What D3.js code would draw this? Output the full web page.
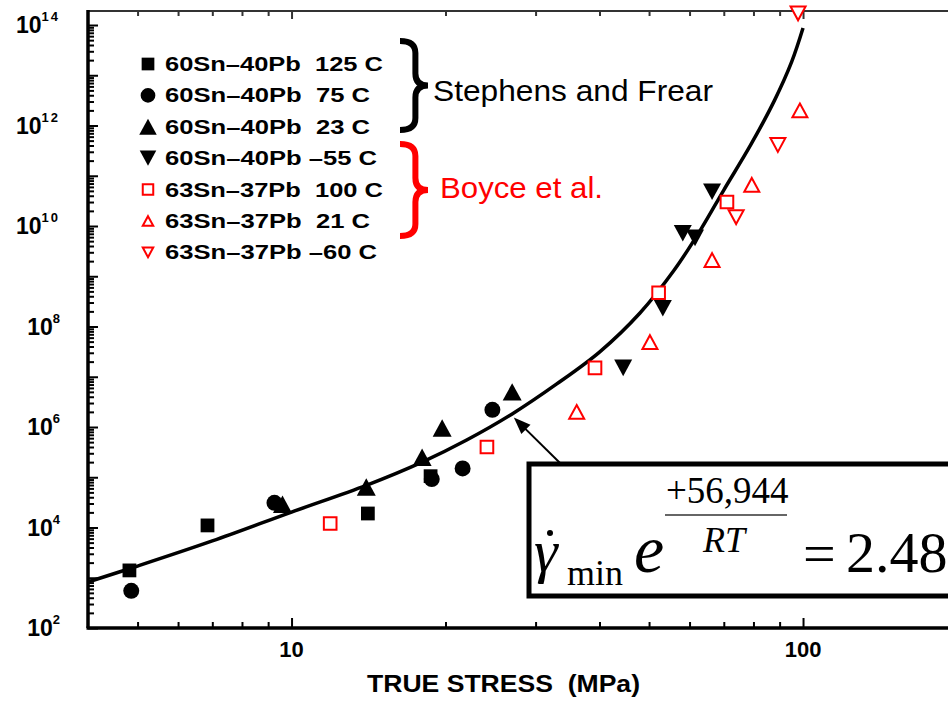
<!DOCTYPE html>
<html>
<head>
<meta charset="utf-8">
<script src="https://cdn.jsdelivr.net/npm/d3@7"></script>
<style>
  body { margin: 0; background: #fff; }
  svg { display: block; font-family: "Liberation Sans", Arial, sans-serif; }
</style>
</head>
<body>
<svg id="chart" width="948" height="703"></svg>
<script>
// [true stress (MPa), minimum strain rate * exp(Q/RT)]
const sn60Pb125 = [[4.82, 1.4e3], [6.85, 1.1e4], [14.1, 1.9e4], [18.7, 1.05e5]];
const sn60Pb75 = [[4.86, 5.5e2], [9.26, 3.1e4], [18.8, 9.2e4], [21.6, 1.5e5], [24.7, 2.2e6]];
const sn60Pb23 = [[9.6, 2.9e4], [14.0, 6.4e4], [18.0, 2.5e5], [19.7, 9.6e5], [27.0, 5.0e6]];
const sn60PbM55 = [[44.5, 1.5e7], [53.2, 2.3e8], [58.2, 7.2e9], [61.5, 5.8e9], [66.4, 4.8e10]];
const sn63Pb100 = [[11.9, 1.2e4], [24.1, 4.0e5], [39.2, 1.5e7], [52.2, 4.7e8], [71.0, 3.0e10]];
const sn63Pb21 = [[36.1, 2.0e6], [50.2, 4.9e7], [66.4, 2.1e9], [79.4, 6.6e10], [98.6, 2.0e12]];
const sn63PbM60 = [[74.0, 1.5e10], [89.3, 4.1e11], [97.8, 1.7e14]];

const legendLabels = [
  "60Sn\u201340Pb  125 C", "60Sn\u201340Pb  75 C", "60Sn\u201340Pb  23 C", "60Sn\u201340Pb \u201355 C",
  "63Sn\u201337Pb  100 C", "63Sn\u201337Pb  21 C", "63Sn\u201337Pb \u201360 C"
];

// fitted curve
const fitCurve = [
  [4, 823], [5, 1.71e3], [7, 5.4e3], [10, 2.03e4], [14, 6.9e4], [18, 2.0e5], [22, 5.5e5],
  [27, 1.82e6], [33, 7.2e6], [40, 3.1e7], [48, 1.86e8], [56, 1.33e9], [63, 8.3e9],
  [70, 5.2e10], [79, 4.1e11], [88, 3.2e12], [95, 1.84e13], [100, 8.7e13]
];

const xMajorTicks = [10, 100, 200];
const xMinorTicks = [5, 6, 7, 8, 9, 20, 30, 40, 50, 60, 70, 80, 90];
const xTickLabels = [10, 100];
const yDecades = [2, 3, 4, 5, 6, 7, 8, 9, 10, 11, 12, 13, 14];
const yLabelPowers = [2, 4, 6, 8, 10, 12, 14];

const svg = d3.select("#chart");
const x = d3.scaleLog().domain([4, 200]).range([88, 957]);
const y = d3.scaleLog().domain([1e2, 1.9e14]).range([628, 11]);

const triUp = {
  draw(ctx, size) {
    const w = Math.sqrt(size), h = w * 0.92;
    ctx.moveTo(0, -h / 2); ctx.lineTo(w / 2, h / 2); ctx.lineTo(-w / 2, h / 2); ctx.closePath();
  }
};
const triDown = {
  draw(ctx, size) {
    const w = Math.sqrt(size), h = w * 0.92;
    ctx.moveTo(0, h / 2); ctx.lineTo(w / 2, -h / 2); ctx.lineTo(-w / 2, -h / 2); ctx.closePath();
  }
};

const series = [
  { data: sn60Pb125, type: d3.symbolSquare, size: 190, fill: "#000", stroke: "none" },
  { data: sn60Pb75, type: d3.symbolCircle, size: 200, fill: "#000", stroke: "none" },
  { data: sn60Pb23, type: triUp, size: 361, fill: "#000", stroke: "none" },
  { data: sn60PbM55, type: triDown, size: 324, fill: "#000", stroke: "none" },
  { data: sn63Pb100, type: d3.symbolSquare, size: 160, fill: "#fff", stroke: "#f00" },
  { data: sn63Pb21, type: triUp, size: 225, fill: "#fff", stroke: "#f00" },
  { data: sn63PbM60, type: triDown, size: 225, fill: "#fff", stroke: "#f00" }
];

// ticks
function ticks(axis, scale, values, size, transform, color) {
  svg.append("g")
    .attr("transform", transform)
    .call(axis(scale).tickValues(values).tickSize(size).tickSizeOuter(0).tickFormat(""))
    .call(g => g.select(".domain").remove())
    .selectAll("line").attr("stroke", color).attr("stroke-width", 2);
}
const yMinor = yDecades.slice(0, -1).flatMap(p => [2, 3, 4, 5, 6, 7, 8, 9].map(k => k * Math.pow(10, p)))
  .filter(v => v < 1.9e14);
const yMajor = yDecades.map(p => Math.pow(10, p));

ticks(d3.axisTop, x, xMajorTicks, 10, `translate(0,${y.range()[0]})`, "#000");
ticks(d3.axisTop, x, xMinorTicks, 6, `translate(0,${y.range()[0]})`, "#000");
ticks(d3.axisBottom, x, xMajorTicks, 8, `translate(0,${y.range()[1]})`, "#333");
ticks(d3.axisBottom, x, xMinorTicks, 5, `translate(0,${y.range()[1]})`, "#333");
ticks(d3.axisRight, y, yMajor, 10, `translate(${x.range()[0]},0)`, "#000");
ticks(d3.axisRight, y, yMinor, 6, `translate(${x.range()[0]},0)`, "#000");

// frame
const [x0, x1] = x.range(), [yb, yt] = y.range();
svg.append("line").attr("x1", x0).attr("x2", x1).attr("y1", yt).attr("y2", yt)
  .attr("stroke", "#333").attr("stroke-width", 2);
svg.append("line").attr("x1", x1).attr("x2", x1).attr("y1", yt).attr("y2", yb)
  .attr("stroke", "#000").attr("stroke-width", 3.5);
svg.append("line").attr("x1", x0 - 1.5).attr("x2", x1).attr("y1", yb).attr("y2", yb)
  .attr("stroke", "#000").attr("stroke-width", 3.5);
svg.append("line").attr("x1", x0).attr("x2", x0).attr("y1", yt - 1).attr("y2", yb)
  .attr("stroke", "#000").attr("stroke-width", 3.5);

// tick labels
svg.selectAll(".xlab")
  .data(xTickLabels)
  .join("text")
  .attr("x", d => x(d))
  .attr("y", 657)
  .attr("text-anchor", "middle")
  .attr("font-size", 22)
  .attr("font-weight", "bold")
  .text(d => d);

const ylab = svg.selectAll(".ylab")
  .data(yLabelPowers)
  .join("text")
  .attr("x", 60)
  .attr("y", d => y(Math.pow(10, d)) + 8)
  .attr("text-anchor", "end")
  .attr("font-weight", "bold");
ylab.append("tspan").attr("font-size", 23).text("10");
ylab.append("tspan").attr("font-size", 13).attr("dy", -12)
  .attr("letter-spacing", d => d > 9 ? 2 : 0).text(d => d);

svg.append("text")
  .attr("x", 367)
  .attr("y", 692)
  .attr("font-size", 24)
  .attr("font-weight", "bold")
  .attr("textLength", 273)
  .attr("lengthAdjust", "spacingAndGlyphs")
  .style("white-space", "pre")
  .text("TRUE STRESS  (MPa)");

// fitted curve
const line = d3.line().x(d => x(d[0])).y(d => y(d[1])).curve(d3.curveCatmullRom.alpha(0.5));
svg.append("path")
  .datum(fitCurve)
  .attr("d", line)
  .attr("fill", "none")
  .attr("stroke", "#000")
  .attr("stroke-width", 3.5);

// data markers
series.forEach(s => {
  svg.append("g")
    .selectAll("path")
    .data(s.data)
    .join("path")
    .attr("transform", d => `translate(${x(d[0])},${y(d[1])})`)
    .attr("d", d3.symbol().type(s.type).size(s.size))
    .attr("fill", s.fill)
    .attr("stroke", s.stroke)
    .attr("stroke-width", 2);
});

// legend
const legend = svg.append("g").attr("transform", "translate(148,64)");
const legendWidths = [218, 205, 205, 212, 218, 205, 212];
const rows = legend.selectAll("g")
  .data(series)
  .join("g")
  .attr("transform", (d, i) => `translate(0,${i * 31.4})`);
rows.append("path")
  .attr("d", d => d3.symbol().type(d.type).size(d.fill === "#fff" ? 110 : d.size * 0.85)())
  .attr("fill", d => d.fill)
  .attr("stroke", d => d.stroke)
  .attr("stroke-width", 2);
rows.append("text")
  .attr("x", 17)
  .attr("y", 7)
  .attr("font-size", 20)
  .attr("font-weight", "bold")
  .attr("textLength", (d, i) => legendWidths[i])
  .attr("lengthAdjust", "spacingAndGlyphs")
  .style("white-space", "pre")
  .text((d, i) => legendLabels[i]);

// braces with source labels
function brace(bx, by0, by1, depth) {
  const xm = bx + depth * 0.55, xt = bx + depth, ym = (by0 + by1) / 2, r = 12;
  return `M${bx},${by0} Q${xm},${by0} ${xm},${by0 + r} L${xm},${ym - r} Q${xm},${ym} ${xt},${ym} ` +
    `Q${xm},${ym} ${xm},${ym + r} L${xm},${by1 - r} Q${xm},${by1} ${bx},${by1}`;
}
svg.append("path").attr("d", brace(400, 41, 130, 28))
  .attr("fill", "none").attr("stroke", "#000").attr("stroke-width", 6);
svg.append("path").attr("d", brace(400, 144, 236, 28))
  .attr("fill", "none").attr("stroke", "#f00").attr("stroke-width", 6);
svg.append("text").attr("x", 433).attr("y", 101).attr("font-size", 30)
  .attr("textLength", 280).attr("lengthAdjust", "spacingAndGlyphs")
  .text("Stephens and Frear");
svg.append("text").attr("x", 440).attr("y", 198).attr("font-size", 30).attr("fill", "#f00")
  .attr("textLength", 163).attr("lengthAdjust", "spacingAndGlyphs")
  .text("Boyce et al.");

// arrow to the curve
const tip = [x(27.2), y(1.55e6)];
const tail = [560, 463];
const ang = Math.atan2(tip[1] - tail[1], tip[0] - tail[0]);
svg.append("line")
  .attr("x1", tail[0]).attr("y1", tail[1])
  .attr("x2", tip[0] - 12 * Math.cos(ang)).attr("y2", tip[1] - 12 * Math.sin(ang))
  .attr("stroke", "#000").attr("stroke-width", 2);
svg.append("path")
  .attr("transform", `translate(${tip[0]},${tip[1]}) rotate(${ang * 180 / Math.PI})`)
  .attr("d", "M0,0 L-17,-6.5 L-17,6.5 Z")
  .attr("fill", "#000");

// equation box
const eq = svg.append("g").attr("font-family", "'Liberation Serif', 'Times New Roman', serif");
eq.append("rect")
  .attr("x", 529).attr("y", 464).attr("width", 600).attr("height", 132)
  .attr("fill", "#fff").attr("stroke", "#000").attr("stroke-width", 5);
eq.append("text").attr("x", 534).attr("y", 571).attr("font-size", 60).attr("font-style", "italic").text("\u03b3");
eq.append("circle").attr("cx", 550).attr("cy", 533).attr("r", 3).attr("fill", "#000");
eq.append("text").attr("x", 567).attr("y", 585).attr("font-size", 36).text("min");
eq.append("text").attr("x", 634).attr("y", 572).attr("font-size", 68).attr("font-style", "italic").text("e");
eq.append("text").attr("x", 666).attr("y", 503).attr("font-size", 37).text("+56,944");
eq.append("line").attr("x1", 665).attr("x2", 787).attr("y1", 515).attr("y2", 515)
  .attr("stroke", "#333").attr("stroke-width", 1.5);
eq.append("text").attr("x", 703).attr("y", 552).attr("font-size", 36).attr("font-style", "italic").text("RT");
eq.append("text").attr("x", 803).attr("y", 573).attr("font-size", 58).text("=");
eq.append("text").attr("x", 846).attr("y", 572).attr("font-size", 58).text("2.48");
</script>
</body>
</html>
